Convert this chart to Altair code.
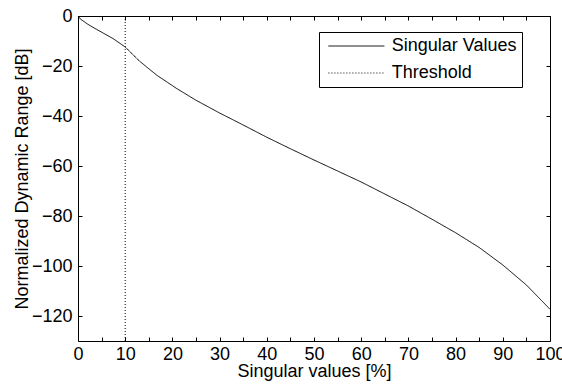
import altair as alt
import pandas as pd

# Values
x_pct = [0, 0.5, 2, 3.6, 5.5, 7.4, 10, 13, 16.7, 20.9, 25, 30, 35, 40, 45, 50,
         55, 60, 65, 70, 75, 80, 85, 90, 95, 100]
y_db = [0, -1.2, -3.2, -5, -7, -9, -12.4, -18, -23.7, -29, -33.7, -38.8, -43.6,
        -48.5, -53.1, -57.6, -62, -66.4, -71.2, -76, -81.3, -86.7, -92.6,
        -99.6, -107.6, -117.3]
threshold_pct = [10]
series_names = ["Singular Values", "Threshold"]
x_ticks = list(range(0, 101, 5))
y_ticks = [-120, -100, -80, -60, -40, -20, 0]

curve = pd.DataFrame({"x": x_pct, "y": y_db, "series": series_names[0]})
thr = pd.DataFrame({"x": threshold_pct, "series": series_names[1]})

FONT = "Liberation Sans"

x_scale = alt.Scale(domain=[0, 100], nice=False, zero=False)
y_scale = alt.Scale(domain=[-130, 0], nice=False, zero=False)

dash = alt.StrokeDash(
    "series:N",
    scale=alt.Scale(domain=series_names, range=[[1, 0], [1, 2]]),
    legend=alt.Legend(
        title=None, orient="none", legendX=241, legendY=16,
        symbolType="M-5,0H5", symbolSize=125.4, symbolStrokeWidth=1,
        symbolStrokeColor="black", symbolOffset=23.4, labelOffset=26.4,
        labelFont=FONT, labelFontSize=18, labelColor="black",
        labelExpr="datum.label + '\u00a0\u00a0\u00a0\u00a0'",
        strokeColor="black", fillColor="white", padding=5, rowPadding=9,
    ),
)

line = alt.Chart(curve).mark_line(color="black", strokeWidth=1).encode(
    x=alt.X("x:Q", scale=x_scale, axis=alt.Axis(
        orient="bottom", values=x_ticks, offset=-4, tickSize=4,
        labelExpr="datum.value % 10 === 0 ? datum.label : ''",
        title="Singular values [%]", labelPadding=4, labelFlush=False,
        titleY=39, titleBaseline="alphabetic")),
    y=alt.Y("y:Q", scale=y_scale, axis=alt.Axis(
        orient="left", values=y_ticks, title="Normalized Dynamic Range [dB]",
        offset=-4, tickSize=4, labelPadding=6, labelFlush=False,
        titleX=-55, titleY=162.5, titleAngle=270, titleBaseline="alphabetic")),
    strokeDash=dash,
)

rule = alt.Chart(thr).mark_rule(color="black", strokeWidth=1).encode(
    x=alt.X("x:Q", scale=x_scale, axis=alt.Axis(
        orient="top", values=x_ticks, labels=False, title=None,
        offset=-4, tickSize=4)),
    y=alt.Y(datum=-130, type="quantitative", scale=y_scale, axis=alt.Axis(
        orient="right", values=y_ticks, labels=False, title=None,
        offset=-4, tickSize=4)),
    y2=alt.datum(0),
    strokeDash=dash,
)

chart = alt.layer(line, rule).resolve_axis(
    x="independent", y="independent"
).properties(
    width=472, height=325,
    padding={"left": 78, "top": 16, "right": 12, "bottom": 46},
    autosize=alt.AutoSizeParams(type="none"),
    background="white",
).configure_axis(
    labelFont=FONT, labelFontSize=18, labelColor="black",
    titleFont=FONT, titleFontSize=18, titleFontWeight="normal", titleColor="black",
    tickColor="black", tickWidth=1, grid=False, domain=False,
).configure_view(stroke="black", strokeWidth=1)

chart.save("out.html", embed_options={"renderer": "svg", "actions": False})
